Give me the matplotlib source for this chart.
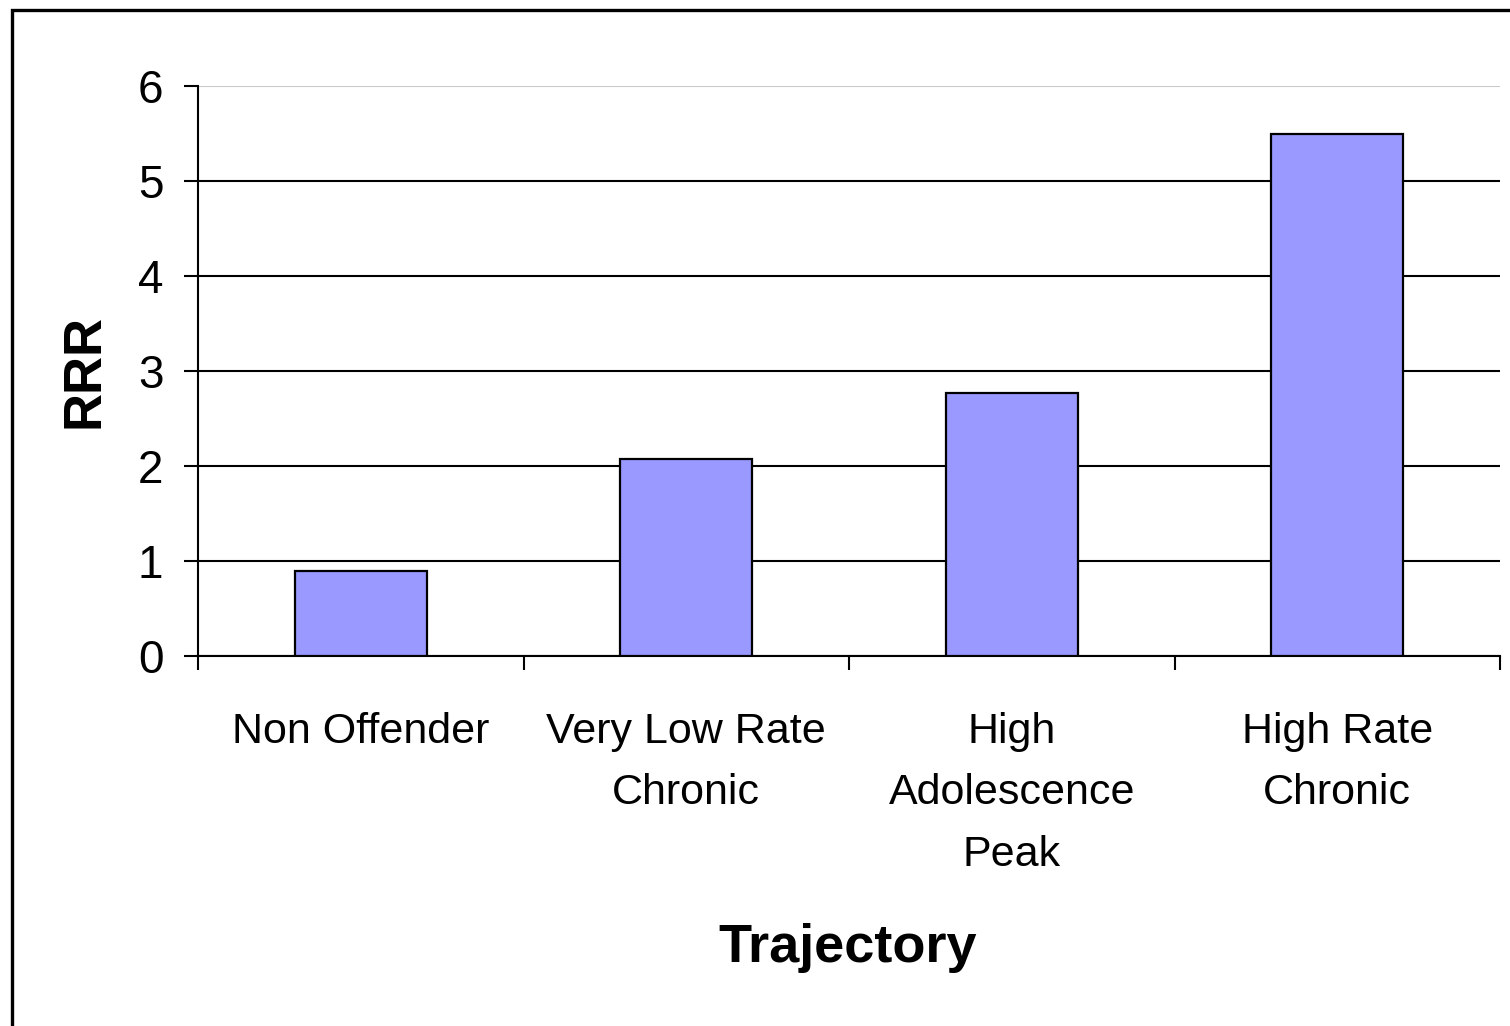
import matplotlib.pyplot as plt
from matplotlib.patches import Rectangle

plt.rcParams['font.family'] = ['Liberation Sans', 'DejaVu Sans']

categories = ["Non Offender", "Very Low Rate\nChronic", "High\nAdolescence\nPeak", "High Rate\nChronic"]
rrr = [0.9, 2.07, 2.77, 5.49]
y_ticks = [0, 1, 2, 3, 4, 5, 6]

fig = plt.figure(figsize=(15.10, 10.26), dpi=100)
fig.patch.set_facecolor('white')

# outer frame, right and bottom edges run off the canvas
fig.patches.append(Rectangle((12 / 1510, -0.05), 1.2, 1.05 - 10 / 1026,
                             transform=fig.transFigure, fill=False,
                             edgecolor='black', linewidth=2.4, zorder=0))

ax = fig.add_axes([198 / 1510, 1 - 656 / 1026, (1500 - 198) / 1510, (656 - 86) / 1026])
x = list(range(len(categories)))
ax.bar(x, rrr, width=0.405, color='#9999ff', edgecolor='black', linewidth=1.6, zorder=3)

ax.set_xlim(-0.5, len(categories) - 0.5)
ax.set_ylim(0, 6)
ax.set_yticks(y_ticks)
ax.tick_params(axis='y', labelsize=33, length=10, width=1.5, pad=15, direction='out')

# boundary ticks on the x axis, labels sit on the category centres
ax.set_xticks([i - 0.5 for i in range(len(categories) + 1)])
ax.set_xticklabels([])
ax.tick_params(axis='x', which='major', length=10, width=1.5, direction='out')
ax.set_xticks(x, minor=True)
ax.set_xticklabels(categories, minor=True, fontsize=31, linespacing=1.7)
ax.tick_params(axis='x', which='minor', length=0, pad=40)

ax.yaxis.grid(True, color='black', linewidth=1.5, zorder=0)
ax.set_axisbelow(True)
ax.get_ygridlines()[-1].set_color('#c8c8c8')

for side in ['top', 'right']:
    ax.spines[side].set_visible(False)
ax.spines['left'].set_linewidth(1.5)
ax.spines['bottom'].set_linewidth(1.5)

ax.set_ylabel("RRR", fontsize=38, fontweight='bold')
ax.yaxis.set_label_coords(-0.068, 0.5)
ax.set_xlabel("Trajectory", fontsize=39, fontweight='bold')
ax.xaxis.set_label_coords(0.499, -0.468)

fig.savefig("out.png", dpi=100)
